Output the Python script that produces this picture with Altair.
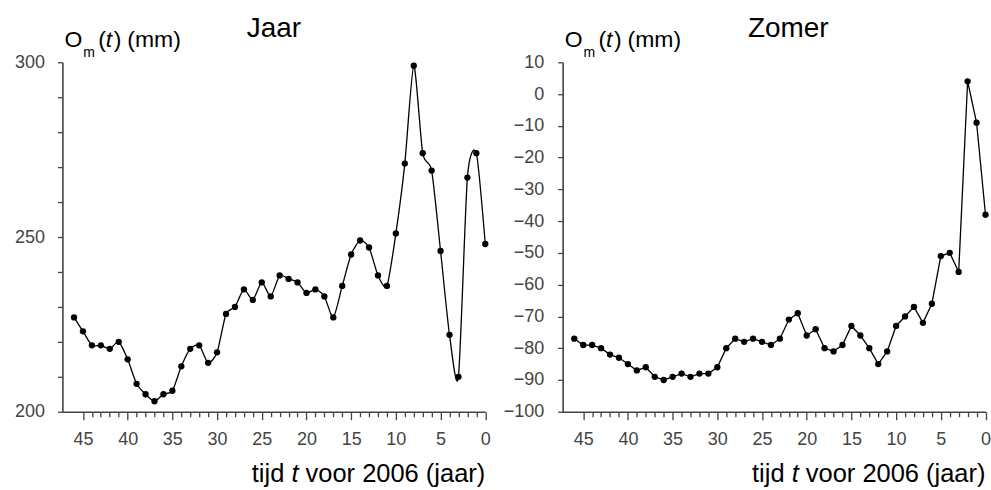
import altair as alt
import pandas as pd

# ---- data ----
years = list(range(46, -1, -1))
jaar = [227, 223, 219, 219, 218, 220, 215, 208, 205, 203, 205, 206, 213, 218, 219, 214,
        217, 228, 230, 235, 232, 237, 233, 239, 238, 237, 234, 235, 233, 227, 236, 245,
        249, 247, 239, 236, 251, 271, 299, 274, 269, 246, 222, 210, 267, 274, 248]
zomer = [-77, -79, -79, -80, -82, -83, -85, -87, -86, -89, -90, -89, -88, -89, -88, -88,
         -86, -80, -77, -78, -77, -78, -79, -77, -71, -69, -76, -74, -80, -81, -79, -73,
         -76, -80, -85, -81, -73, -70, -67, -72, -66, -51, -50, -56, 4, -9, -38]
x_ticks = list(range(0, 46))
jaar_yticks = list(range(200, 301, 10))
zomer_yticks = list(range(-100, 11, 10))
titles = ["Jaar", "Zomer"]
x_title = ["tijd", "t", "voor 2006 (jaar)"]
y_title = ["O", "m", "(", "t", ")", "(mm)"]

W = 423.5
H = 350
FONT = "Liberation Sans"
INK = "#000000"
AXC = "#444444"

ARIAL = {' ': 278, '(': 333, ')': 333, 'a': 556, 'd': 556, 'i': 222, 'j': 222, 'm': 833,
         'o': 556, 'r': 333, 't': 278, 'v': 500}
for ch in "0123456789":
    ARIAL[ch] = 556


def tw(s, fs):
    return sum(ARIAL.get(c, 556) for c in s) / 1000.0 * fs


def txt(s, x, y, fs, italic=False, align="left", color=INK):
    return alt.Chart(pd.DataFrame({"s": [s]})).mark_text(
        align=align, baseline="alphabetic", font=FONT, fontSize=fs,
        fontStyle="italic" if italic else "normal", color=color
    ).encode(x=alt.value(x), y=alt.value(y), text="s:N")


def panel(values, ydomain, yticks, ylabel_expr, interp, title, title_x, ylab_pad):
    df = pd.DataFrame({"t": years, "v": values})
    base = alt.Chart(df)
    xenc = alt.X(
        "t:Q",
        scale=alt.Scale(domain=[0, 47.3], reverse=True, nice=False, zero=False),
        axis=alt.Axis(
            values=x_ticks, tickCount=200, format="d", title=None, grid=False, orient="bottom",
            labelExpr="datum.value % 5 === 0 ? datum.label : ''",
            tickSize={"condition": {"test": "datum.value % 5 === 0", "value": 8}, "value": 5},
            labelFlush=False, labelOverlap=False, labelPadding=11,
        ),
    )
    yenc = alt.Y(
        "v:Q",
        scale=alt.Scale(domain=ydomain, nice=False, zero=False),
        axis=alt.Axis(
            values=yticks, tickCount=200, format="d", title=None, grid=False, tickSize=5,
            labelExpr=ylabel_expr,
            labelFlush=False, labelOverlap=False, labelPadding=ylab_pad, minExtent=60,
        ),
    )
    mark_kw = {"interpolate": interp, "color": INK, "strokeWidth": 1.3}
    if interp == "cardinal":
        mark_kw["tension"] = 0.3
    line = base.mark_line(**mark_kw).encode(x=xenc, y=yenc)
    pts = base.mark_circle(size=40, color="#000000", opacity=1).encode(x="t:Q", y="v:Q")

    layers = [line, pts]
    # panel title
    layers.append(txt(title, title_x, -25.3, 28, align="center"))
    # y axis title  O_m(t) (mm)
    fy = 23
    layers.append(txt(y_title[0], 2.0, -15.3, fy))
    layers.append(txt(y_title[1], 21.0, -5.5, 14))
    layers.append(txt(y_title[2], 36.0, -15.3, fy))
    layers.append(txt(y_title[3], 43.5, -15.3, fy, italic=True))
    layers.append(txt(y_title[4], 51.5, -15.3, fy))
    layers.append(txt(y_title[5], 65.0, -15.3, fy))
    # x axis title: tijd t voor 2006 (jaar), right aligned at the plot edge
    fx = 25.5
    total = tw("tijd t voor 2006 (jaar)", fx)
    x0 = W - total
    layers.append(txt(x_title[0], x0, H + 70, fx))
    layers.append(txt(x_title[1], x0 + tw("tijd ", fx), H + 70, fx, italic=True))
    layers.append(txt(x_title[2], x0 + tw("tijd t ", fx), H + 70, fx))
    return alt.layer(*layers).properties(width=W, height=H)


left = panel(jaar, [200, 300], jaar_yticks,
             "datum.value % 50 === 0 ? datum.label : ''", "cardinal", titles[0], W / 2, 13)
right = panel(zomer, [-100, 10], zomer_yticks, "datum.label", "linear", titles[1], 226, 14)

chart = alt.hconcat(left, right, spacing=77, bounds="flush").properties(
    padding={"left": 2.5, "top": 14.0, "right": 0, "bottom": 0},
    background="white",
).configure_view(stroke=None).configure_axis(
    domainColor=AXC, domainWidth=1.6, tickColor=AXC, tickWidth=1.3,
    labelColor=AXC, labelFont=FONT, labelFontSize=18,
)

chart.save("out.html", embed_options={"renderer": "svg", "actions": False})
